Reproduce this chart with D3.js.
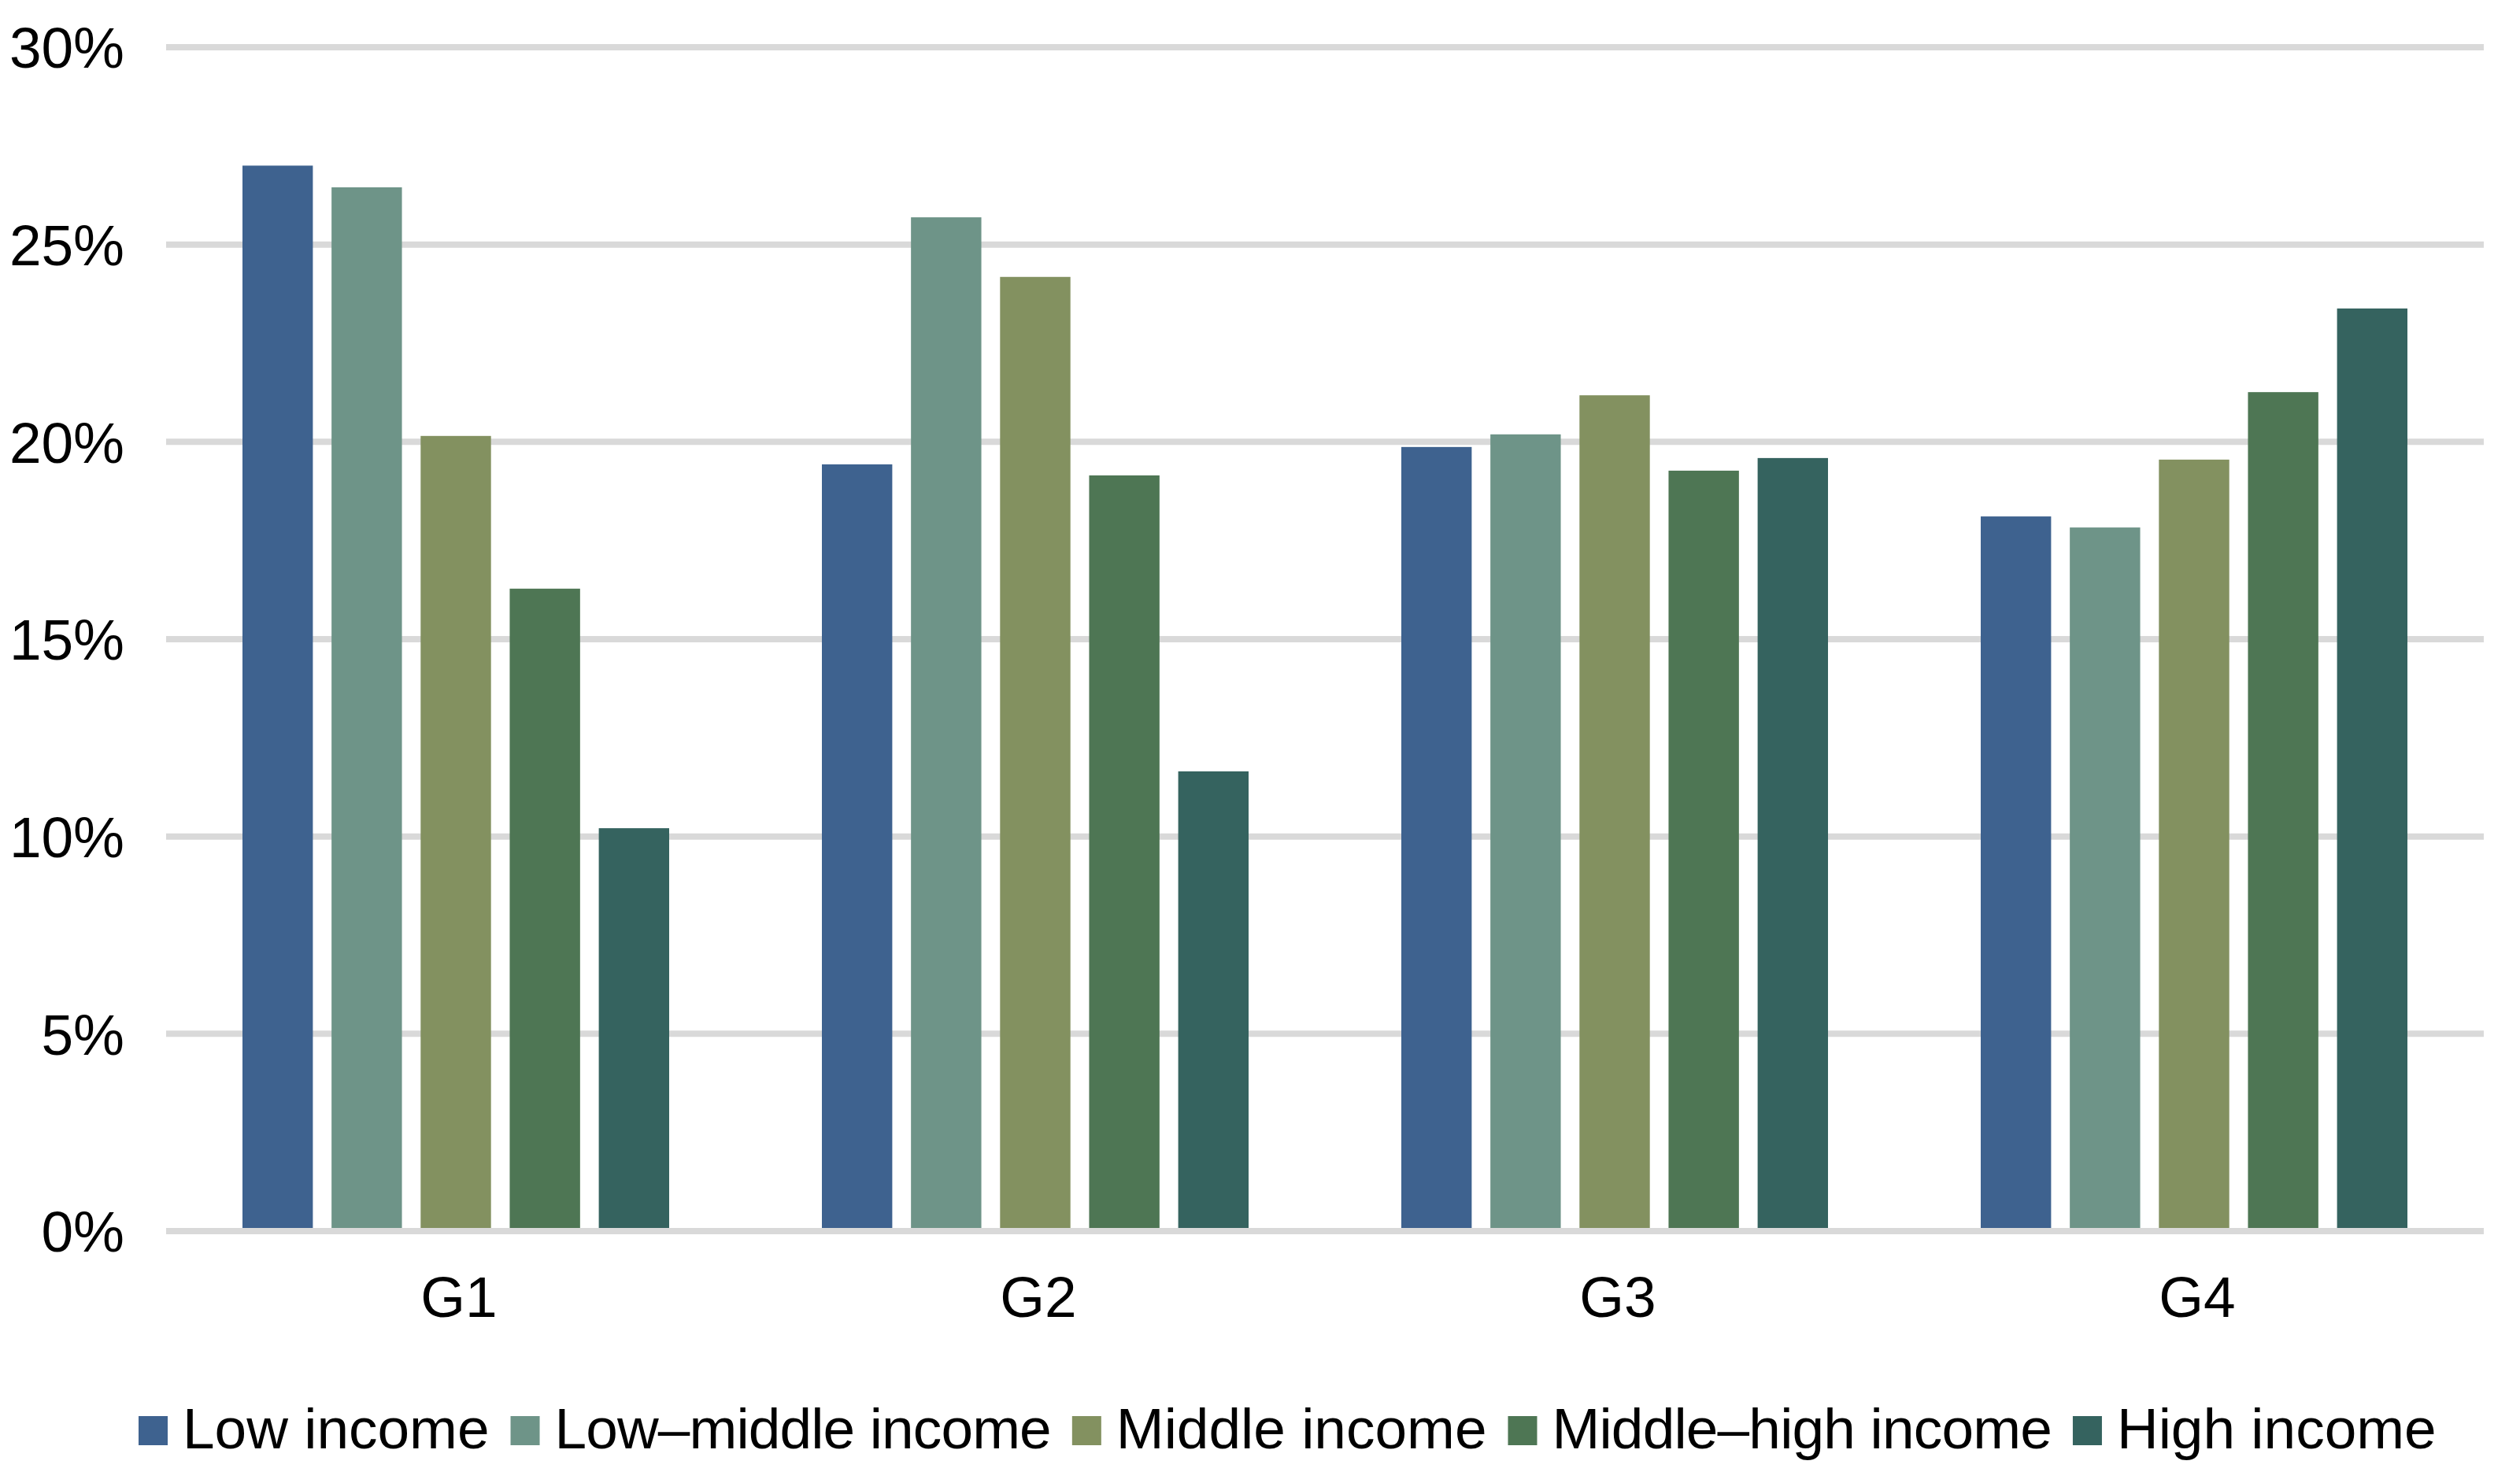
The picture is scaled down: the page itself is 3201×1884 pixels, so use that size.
<!DOCTYPE html>
<html>
<head>
<meta charset="utf-8">
<script src="https://cdn.jsdelivr.net/npm/d3@7"></script>
<style>
  html, body { margin: 0; padding: 0; background: #fff; }
  svg { display: block; }
  text { font-family: "Liberation Sans", Arial, sans-serif; fill: #000; }
</style>
</head>
<body>
<svg id="chart" width="3201" height="1884"></svg>
<script>
const categories = ["G1", "G2", "G3", "G4"];
const seriesNames = ["Low income", "Low\u2013middle income", "Middle income", "Middle\u2013high income", "High income"];
const lowIncome        = [27.0, 19.43, 19.87, 18.11];
const lowMiddleIncome  = [26.45, 25.69, 20.19, 17.83];
const middleIncome     = [20.15, 24.18, 21.18, 19.55];
const middleHighIncome = [16.28, 19.15, 19.27, 21.26];
const highIncome       = [10.21, 11.65, 19.59, 23.38];
const yTicks = [0, 5, 10, 15, 20, 25, 30];
const colors = ["#3E628F", "#6E9488", "#839160", "#4E7654", "#35635F"];

const seriesValues = [lowIncome, lowMiddleIncome, middleIncome, middleHighIncome, highIncome];

const svg = d3.select("#chart");
const fontSize = 73;

const plotLeft = 211, plotRight = 3155, plotTop = 60, plotBottom = 1564;

const y = d3.scaleLinear().domain([0, 30]).range([plotBottom, plotTop]);
const x0 = d3.scaleBand().domain(categories).range([plotLeft, plotRight]).paddingInner(0).paddingOuter(0);
const gw = x0.bandwidth();
const clusterW = 542;
const x1 = d3.scaleBand().domain(seriesNames)
  .range([(gw - clusterW) / 2, (gw + clusterW) / 2])
  .paddingInner(0.21).paddingOuter(0);

// gridlines
svg.append("g").selectAll("line").data(yTicks.filter(t => t !== 0)).join("line")
  .attr("x1", plotLeft).attr("x2", plotRight)
  .attr("y1", d => y(d)).attr("y2", d => y(d))
  .attr("stroke", "#D9D9D9").attr("stroke-width", 8);

// y labels
svg.append("g").selectAll("text").data(yTicks).join("text")
  .attr("x", 158).attr("y", d => y(d))
  .attr("dy", "0.36em")
  .attr("text-anchor", "end")
  .attr("font-size", fontSize)
  .text(d => d + "%");

// bars
const groups = svg.append("g").selectAll("g").data(categories).join("g")
  .attr("transform", d => `translate(${x0(d)},0)`);
groups.selectAll("rect")
  .data((c, ci) => seriesNames.map((s, si) => ({ s, si, v: seriesValues[si][ci] })))
  .join("rect")
  .attr("x", d => x1(d.s))
  .attr("width", x1.bandwidth())
  .attr("y", d => y(d.v))
  .attr("height", d => y(0) - y(d.v))
  .attr("fill", d => colors[d.si]);

// zero line
svg.append("line")
  .attr("x1", plotLeft).attr("x2", plotRight)
  .attr("y1", y(0)).attr("y2", y(0))
  .attr("stroke", "#D9D9D9").attr("stroke-width", 8);

// x labels
svg.append("g").selectAll("text").data(categories).join("text")
  .attr("x", d => x0(d) + gw / 2 + 4)
  .attr("y", 1673)
  .attr("text-anchor", "middle")
  .attr("font-size", fontSize)
  .text(d => d);

// legend
const legend = svg.append("g");
let lx = 176;
const legendBaseline = 1840;
seriesNames.forEach((name, i) => {
  legend.append("rect")
    .attr("x", lx).attr("y", 1799)
    .attr("width", 37).attr("height", 37)
    .attr("fill", colors[i]);
  const t = legend.append("text")
    .attr("x", lx + 56).attr("y", legendBaseline)
    .attr("font-size", fontSize)
    .text(name);
  if (name.includes("\u2013")) {
    t.attr("letter-spacing", -14 / (name.length - 1));
  }
  const bb = t.node().getBBox();
  lx = bb.x + bb.width + 27;
});
</script>
</body>
</html>
